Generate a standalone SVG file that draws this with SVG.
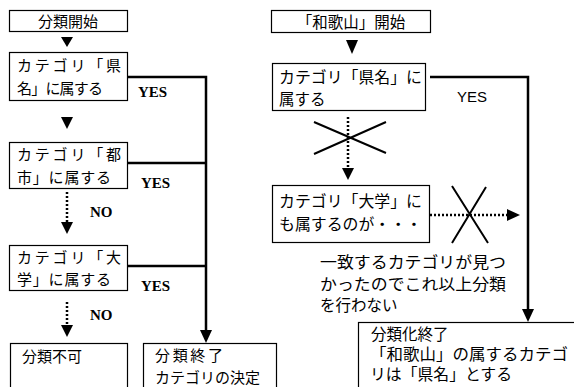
<svg xmlns="http://www.w3.org/2000/svg" width="574" height="387" viewBox="0 0 574 387">
<style>
.box{fill:#fff;stroke:#000;stroke-width:1.2}
.jp{font-family:"Noto Sans CJK JP","Noto Sans",sans-serif;font-size:15px;fill:#000}
.jr{font-family:"Noto Sans CJK JP","Noto Sans",sans-serif;font-size:15.5px;fill:#000}
.ser{font-family:"Liberation Serif","Times New Roman",serif;font-size:15px;font-weight:bold;fill:#000}
.san{font-family:"Liberation Sans",sans-serif;font-size:15px;fill:#000}
.thick{fill:none;stroke:#000;stroke-width:2.5}
.dot{fill:none;stroke:#000;stroke-width:2.5;stroke-dasharray:2 2}
.thin{fill:none;stroke:#000;stroke-width:2}
.tri{fill:#000}
</style>
<g id="start-left">
<rect class="box" x="9.5" y="10.5" width="118" height="21"/>
<text class="jp" x="68" y="27" text-anchor="middle">分類開始</text>
</g>
<g id="q-ken">
<rect class="box" x="9.5" y="52.5" width="118" height="48"/>
<text class="jp" x="17" y="71" textLength="104" lengthAdjust="spacing">カテゴリ「県</text>
<text class="jp" x="17" y="94" textLength="86" lengthAdjust="spacing">名」に属する</text>
</g>
<g id="q-toshi">
<rect class="box" x="9.5" y="142.5" width="118" height="46"/>
<text class="jp" x="17" y="160" textLength="104" lengthAdjust="spacing">カテゴリ「都</text>
<text class="jp" x="17" y="183" textLength="94" lengthAdjust="spacing">市」に属する</text>
</g>
<g id="q-daigaku">
<rect class="box" x="9.5" y="245.5" width="118" height="45"/>
<text class="jp" x="17" y="263" textLength="104" lengthAdjust="spacing">カテゴリ「大</text>
<text class="jp" x="17" y="285" textLength="94" lengthAdjust="spacing">学」に属する</text>
</g>
<g id="fail">
<rect class="box" x="10.5" y="343.5" width="117" height="50"/>
<text class="jp" x="22" y="362">分類不可</text>
</g>
<g id="end-left">
<rect class="box" x="143.5" y="343.5" width="133" height="50"/>
<text class="jp" x="155" y="361" textLength="68" lengthAdjust="spacing">分類終了</text>
<text class="jp" x="155" y="383">カテゴリの決定</text>
</g>
<g id="start-right">
<rect class="box" x="271.5" y="10.5" width="159" height="22"/>
<text class="jr" x="351" y="28" text-anchor="middle">「和歌山」開始</text>
</g>
<g id="r-ken">
<rect class="box" x="272.5" y="63.5" width="153" height="47"/>
<text class="jr" x="279" y="83" textLength="143" lengthAdjust="spacingAndGlyphs">カテゴリ「県名」に</text>
<text class="jr" x="279" y="105">属する</text>
</g>
<g id="r-daigaku">
<rect class="box" x="272.5" y="185.5" width="157" height="57"/>
<text class="jr" x="279" y="207" textLength="143" lengthAdjust="spacingAndGlyphs">カテゴリ「大学」に</text>
<text class="jr" x="279" y="230" textLength="143" lengthAdjust="spacingAndGlyphs">も属するのが・・・</text>
</g>
<g id="note">
<text class="jr" x="320" y="268" textLength="186" lengthAdjust="spacingAndGlyphs">一致するカテゴリが見つ</text>
<text class="jr" x="320" y="290" textLength="186" lengthAdjust="spacingAndGlyphs">かったのでこれ以上分類</text>
<text class="jr" x="320" y="311">を行わない</text>
</g>
<g id="end-right">
<rect class="box" x="358.5" y="322.5" width="220" height="70"/>
<text class="jr" x="371" y="340">分類化終了</text>
<text class="jr" x="370" y="360" textLength="198" lengthAdjust="spacingAndGlyphs">「和歌山」の属するカテゴ</text>
<text class="jr" x="370" y="380" textLength="142" lengthAdjust="spacingAndGlyphs">リは「県名」とする</text>
</g>
<g id="connectors">
<polygon class="tri" points="61,37 73,37 67,47"/>
<polygon class="tri" points="61,117 73,117 67,129"/>
<path class="dot" d="M67,192 V225"/>
<polygon class="tri" points="61,222 73,222 67,234"/>
<path class="dot" d="M67,302 V326"/>
<polygon class="tri" points="61,325 73,325 67,337"/>
<path class="thick" d="M128,77 H206 V333"/>
<path class="thick" d="M128,163 H206"/>
<path class="thick" d="M128,266 H206"/>
<polygon class="tri" points="200,330 212,330 206,343"/>
<text class="ser" x="138" y="97">YES</text>
<text class="ser" x="141" y="188">YES</text>
<text class="ser" x="141" y="291">YES</text>
<text class="ser" x="90" y="217">NO</text>
<text class="ser" x="90" y="320">NO</text>
<polygon class="tri" points="346,40 358,40 352,54"/>
<path class="thick" d="M430,77 H528 V310"/>
<polygon class="tri" points="522,309 534,309 528,322"/>
<text class="san" x="457" y="102">YES</text>
<path class="dot" d="M348,117 V170"/>
<polygon class="tri" points="342,168 354,168 348,180"/>
<path class="thin" d="M314,122 L386,153 M314,154 L386,122"/>
<path class="dot" d="M430,215 H508"/>
<polygon class="tri" points="507,209 507,221 520,215"/>
<path class="thin" d="M452,186 L488,243 M486,187 L452,243"/>
</g>
</svg>
